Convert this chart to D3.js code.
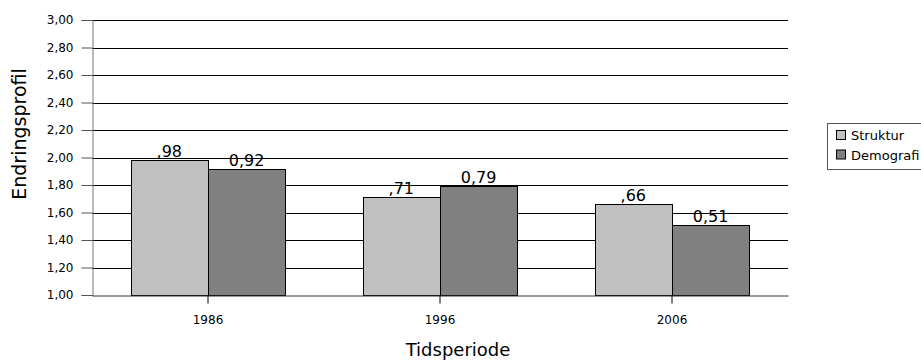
<!DOCTYPE html>
<html>
<head>
<meta charset="utf-8">
<script src="https://cdn.jsdelivr.net/npm/d3@7"></script>
<style>
  body { margin: 0; background: #fff; }
  svg { font-family: "DejaVu Sans", sans-serif; }
</style>
</head>
<body>
<svg width="921" height="361"></svg>
<script>
// chart data
const periods = ["1986", "1996", "2006"];
const seriesNames = ["Struktur", "Demografi"];
const struktur = [1.98, 1.71, 1.66];
const demografi = [1.92, 1.79, 1.51];
const strukturLabels = [",98", ",71", ",66"];
const demografiLabels = ["0,92", "0,79", "0,51"];
const yTicks = [1.0, 1.2, 1.4, 1.6, 1.8, 2.0, 2.2, 2.4, 2.6, 2.8, 3.0];
const colors = ["#c0c0c0", "#808080"];

const svg = d3.select("svg");
const plotLeft = 92, plotRight = 788, plotTop = 20, plotBottom = 295;

const x = d3.scaleBand().domain(periods).range([plotLeft, plotRight]);
const xs = d3.scaleBand().domain(seriesNames).range([0, x.bandwidth()]).paddingOuter(0.5);
const y = d3.scaleLinear().domain([1, 3]).range([plotBottom, plotTop]);
const fmt = d => d.toFixed(2).replace(".", ",");

// gridlines
svg.append("g").selectAll("line").data(yTicks.slice(1)).join("line")
    .attr("x1", plotLeft).attr("x2", plotRight)
    .attr("y1", d => Math.round(y(d)) + 0.5).attr("y2", d => Math.round(y(d)) + 0.5)
    .attr("stroke", "#000").attr("stroke-width", 1);

// y axis
const yAxis = svg.append("g").attr("transform", `translate(${plotLeft + 0.5},0)`)
    .call(d3.axisLeft(y).tickValues(yTicks).tickFormat(fmt).tickSize(11).tickPadding(8));
yAxis.select(".domain").attr("stroke", "#777");
yAxis.selectAll(".tick line").attr("stroke", "#555");
yAxis.selectAll("text").attr("font-size", 12).attr("fill", "#000")
    .attr("font-family", "DejaVu Sans, sans-serif");

// bars
const data = periods.map((p, i) => ({ p, vals: [
    { s: seriesNames[0], v: struktur[i], lab: strukturLabels[i] },
    { s: seriesNames[1], v: demografi[i], lab: demografiLabels[i] }
]}));

const groups = svg.append("g").selectAll("g").data(data).join("g")
    .attr("transform", d => `translate(${x(d.p)},0)`);

groups.selectAll("rect").data(d => d.vals).join("rect")
    .attr("x", d => Math.round(xs(d.s)) + 0.5)
    .attr("y", d => Math.round(y(d.v)) + 0.5)
    .attr("width", Math.round(xs.bandwidth()))
    .attr("height", d => Math.round(y(1)) - Math.round(y(d.v)))
    .attr("fill", (d, i) => colors[i])
    .attr("stroke", "#000").attr("stroke-width", 1);

groups.selectAll("text").data(d => d.vals).join("text")
    .attr("x", d => xs(d.s) + xs.bandwidth() / 2)
    .attr("y", d => y(d.v) - 3)
    .attr("text-anchor", "middle")
    .attr("font-size", 16)
    .text(d => d.lab);

// x axis
const xAxis = svg.append("g").attr("transform", `translate(0,${plotBottom + 0.5})`)
    .call(d3.axisBottom(x).tickSize(8).tickPadding(12).tickSizeOuter(0));
xAxis.select(".domain").attr("stroke", "#333");
xAxis.selectAll(".tick line").attr("stroke", "#000");
xAxis.selectAll("text").attr("font-size", 12).attr("fill", "#000")
    .attr("font-family", "DejaVu Sans, sans-serif");

// axis titles
svg.append("text").attr("x", 458).attr("y", 356)
    .attr("text-anchor", "middle").attr("font-size", 18)
    .text("Tidsperiode");
svg.append("text").attr("transform", "translate(26,134) rotate(-90)")
    .attr("text-anchor", "middle").attr("font-size", 19)
    .text("Endringsprofil");

// legend
const lg = svg.append("g").attr("transform", "translate(827,123)");
lg.append("rect").attr("x", 0.5).attr("y", 0.5).attr("width", 110).attr("height", 46)
    .attr("fill", "#fff").attr("stroke", "#555");
lg.selectAll("g").data(seriesNames).join("g")
    .attr("transform", (d, i) => `translate(9,${7 + i * 19.5})`)
    .call(g => {
        g.append("rect").attr("x", 0.5).attr("y", 0.5).attr("width", 9).attr("height", 9)
            .attr("fill", (d, i) => colors[i]).attr("stroke", "#000");
        g.append("text").attr("x", 15).attr("y", 10).attr("font-size", 13).text(d => d);
    });
</script>
</body>
</html>
